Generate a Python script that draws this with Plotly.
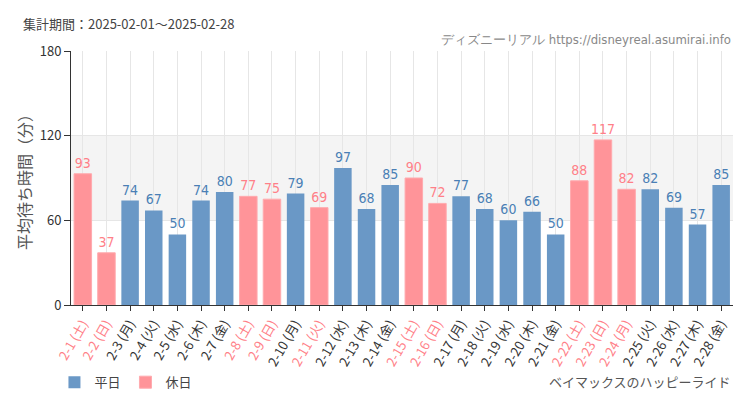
import plotly.graph_objects as go

dates = ["2-1", "2-2", "2-3", "2-4", "2-5", "2-6", "2-7", "2-8", "2-9", "2-10",
         "2-11", "2-12", "2-13", "2-14", "2-15", "2-16", "2-17", "2-18", "2-19", "2-20",
         "2-21", "2-22", "2-23", "2-24", "2-25", "2-26", "2-27", "2-28"]
weekdays = ["土", "日", "月", "火", "水", "木", "金", "土", "日", "月",
            "火", "水", "木", "金", "土", "日", "月", "火", "水", "木",
            "金", "土", "日", "月", "火", "水", "木", "金"]
values = [93, 37, 74, 67, 50, 74, 80, 77, 75, 79,
          69, 97, 68, 85, 90, 72, 77, 68, 60, 66,
          50, 88, 117, 82, 82, 69, 57, 85]
holiday = [1, 1, 0, 0, 0, 0, 0, 1, 1, 0,
           1, 0, 0, 0, 1, 1, 0, 0, 0, 0,
           0, 1, 1, 1, 0, 0, 0, 0]

BLUE = "#6a98c6"
PINK = "#ff9499"
PINK_TXT = "#ff7f88"

x = list(range(len(dates)))
wd_vals = [v if h == 0 else None for v, h in zip(values, holiday)]
hd_vals = [v if h == 1 else None for v, h in zip(values, holiday)]

ticktext = []
for d, w, h in zip(dates, weekdays, holiday):
    col = PINK_TXT if h else "#333333"
    ticktext.append(f'<span style="color:{col}">{d} ({w})</span>')

NARROW = "DejaVu Sans Condensed, Liberation Sans Narrow, Roboto, sans-serif"
label_font = dict(family=NARROW, size=14)

fig = go.Figure()
fig.add_trace(go.Bar(
    x=x, y=wd_vals, name="平日", marker=dict(color=BLUE, line=dict(color=BLUE, width=0)),
    text=[str(v) if v is not None else "" for v in wd_vals], textposition="outside",
    textfont=dict(color="#4a7fb5", **label_font), cliponaxis=False, constraintext="none",
))
fig.add_trace(go.Bar(
    x=x, y=hd_vals, name="休日", marker=dict(color=PINK, line=dict(color="#ffaaae", width=1)),
    text=[str(v) if v is not None else "" for v in hd_vals], textposition="outside",
    textfont=dict(color=PINK_TXT, **label_font), cliponaxis=False, constraintext="none",
))

fig.add_shape(type="rect", xref="paper", yref="y", x0=0, x1=1, y0=60, y1=120,
              fillcolor="#f4f4f4", line=dict(width=0), layer="below")

fig.update_layout(
    width=742, height=402,
    margin=dict(l=63, r=17, t=43, b=105, autoexpand=False),
    paper_bgcolor="#ffffff", plot_bgcolor="#ffffff",
    barmode="overlay", bargap=0.26,
    font=dict(family="Noto Sans CJK JP, sans-serif", color="#333333", size=12),
    showlegend=True,
    legend=dict(orientation="h", x=-0.025, y=-0.245, xanchor="left", yanchor="top",
                font=dict(size=13, color="#444444"), itemwidth=30),
)
fig.update_xaxes(
    tickmode="array", tickvals=x, ticktext=ticktext, tickangle=-60,
    range=[-0.5, len(dates) - 0.5], automargin=False,
    showline=True, linecolor="#333333", linewidth=1,
    ticks="outside", ticklen=5, tickcolor="#333333",
    showgrid=True, gridcolor="#e6e6e6", gridwidth=1,
    tickfont=dict(size=13),
)
fig.update_yaxes(
    range=[0, 180], tickvals=[0, 60, 120, 180], automargin=False,
    showline=True, linecolor="#333333", linewidth=1,
    ticks="outside", ticklen=6, tickcolor="#333333",
    showgrid=True, gridcolor="#e6e6e6", zeroline=False,
    tickfont=dict(size=13, color="#333333"),
    title=dict(text="平均待ち時間（分）", font=dict(size=16, color="#555555"), standoff=4),
)

fig.add_annotation(text="集計期間：2025-02-01～2025-02-28", xref="paper", yref="paper",
                   x=-0.075, y=1.11, xanchor="left", yanchor="middle", showarrow=False,
                   font=dict(size=13, color="#444444"))
fig.add_annotation(text="ディズニーリアル https://disneyreal.asumirai.info", xref="paper", yref="paper",
                   x=1.0, y=1.045, xanchor="right", yanchor="middle", showarrow=False,
                   font=dict(size=13, color="#888888", family=NARROW))
fig.add_annotation(text="ベイマックスのハッピーライド", xref="paper", yref="paper",
                   x=1.0, y=-0.3, xanchor="right", yanchor="middle", showarrow=False,
                   font=dict(size=13, color="#555555"))

fig.write_html("out.html")
